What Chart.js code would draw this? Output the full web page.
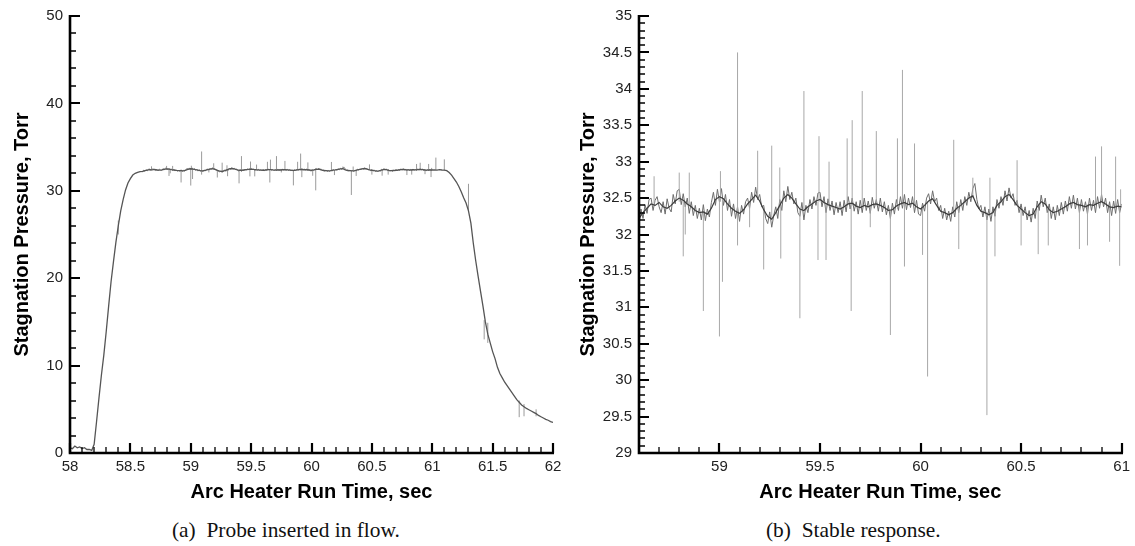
<!DOCTYPE html>
<html>
<head>
<meta charset="utf-8">
<script src="https://cdn.jsdelivr.net/npm/chart.js@4.4.1/dist/chart.umd.min.js"></script>
<style>
  body { margin: 0; background: #fff; width: 1135px; height: 546px; position: relative; overflow: hidden; }
  canvas { position: absolute; top: 0; }
  #left { left: 0; }
  #right { left: 560px; }
  .cap { position: absolute; top: 518px; font: 21.4px "Liberation Serif", "Times New Roman", serif; color: #111; white-space: pre; line-height: 24px; }
</style>
</head>
<body>
<canvas id="left" width="580" height="510"></canvas>
<canvas id="right" width="575" height="510"></canvas>
<div class="cap" style="left:172px">(a)  Probe inserted in flow.</div>
<div class="cap" style="left:766px">(b)  Stable response.</div>
<script>
// sampled pressure (Torr); sample spacing given with each block
const riseStart = 58.0, riseStep = 0.02;
const riseP = [0.6, 0.5, 0.8, 0.6, 0.7, 0.5, 0.6, 0.4, 0.4, 0.3,
               1.0, 3.6, 6.3, 8.9, 11.2, 13.9, 16.8, 19.6, 21.9, 24.1,
               26.0, 27.7, 29.0, 30.1, 30.9, 31.4, 31.8, 32.0, 32.1, 32.2];

// smoothed plateau, 58.60 .. 61.00 every 0.02 s
const meanStart = 58.6, meanStep = 0.02;
const meanP = [
  32.22, 32.30, 32.36, 32.42, 32.40, 32.44, 32.38, 32.36, 32.40, 32.46,
  32.50, 32.47, 32.42, 32.38, 32.33, 32.30, 32.31, 32.28, 32.36, 32.48,
  32.52, 32.49, 32.42, 32.36, 32.32, 32.29, 32.34, 32.42, 32.48, 32.54,
  32.46, 32.34, 32.25, 32.21, 32.30, 32.40, 32.50, 32.55, 32.50, 32.42,
  32.35, 32.33, 32.38, 32.42, 32.46, 32.48, 32.44, 32.41, 32.39, 32.37,
  32.35, 32.38, 32.42, 32.43, 32.39, 32.37, 32.40, 32.38, 32.41, 32.42,
  32.40, 32.37, 32.33, 32.34, 32.39, 32.42, 32.44, 32.41, 32.43, 32.38,
  32.35, 32.40, 32.46, 32.49, 32.40, 32.32, 32.30, 32.27, 32.30, 32.36,
  32.40, 32.45, 32.50, 32.53, 32.40, 32.32, 32.30, 32.27, 32.30, 32.40,
  32.45, 32.52, 32.55, 32.48, 32.40, 32.35, 32.30, 32.26, 32.28, 32.38,
  32.45, 32.42, 32.34, 32.30, 32.32, 32.35, 32.38, 32.42, 32.44, 32.41,
  32.40, 32.38, 32.41, 32.40, 32.43, 32.45, 32.42, 32.38, 32.37, 32.39, 32.38];

// raw plateau, 58.60 .. 61.00 every 0.01 s
const rawStart = 58.6, rawStep = 0.01;
const rawP = [
  32.12, 32.35, 32.22, 32.41, 32.29, 32.48, 32.50, 32.33, 32.47, 32.52, 32.38, 32.30, 32.45, 32.28, 32.49, 32.36, 32.31, 32.55, 32.42, 32.60,
  32.62, 32.41, 32.56, 32.38, 32.50, 32.29, 32.45, 32.26, 32.40, 32.22, 32.36, 32.20, 32.41, 32.19, 32.35, 32.24, 32.44, 32.58, 32.40, 32.62,
  32.45, 32.63, 32.40, 32.55, 32.33, 32.48, 32.25, 32.42, 32.22, 32.38, 32.18, 32.40, 32.28, 32.45, 32.50, 32.36, 32.58, 32.44, 32.65, 32.48,
  32.55, 32.38, 32.40, 32.22, 32.15, 32.31, 32.10, 32.26, 32.38, 32.22, 32.48, 32.33, 32.60, 32.45, 32.66, 32.48, 32.58, 32.42, 32.50, 32.30,
  32.25, 32.44, 32.20, 32.40, 32.30, 32.48, 32.35, 32.52, 32.40, 32.57, 32.58, 32.38, 32.52, 32.30, 32.49, 32.33, 32.46, 32.27, 32.44, 32.30,
  32.45, 32.26, 32.47, 32.31, 32.52, 32.35, 32.50, 32.32, 32.45, 32.28, 32.47, 32.30, 32.50, 32.33, 32.46, 32.29, 32.51, 32.36, 32.48, 32.32,
  32.50, 32.31, 32.45, 32.27, 32.40, 32.22, 32.43, 32.28, 32.48, 32.33, 32.52, 32.36, 32.55, 32.34, 32.50, 32.37, 32.52, 32.30, 32.47, 32.28,
  32.26, 32.43, 32.32, 32.50, 32.56, 32.42, 32.60, 32.45, 32.50, 32.33, 32.40, 32.22, 32.36, 32.20, 32.32, 32.18, 32.38, 32.24, 32.45, 32.30,
  32.48, 32.33, 32.52, 32.40, 32.58, 32.45, 32.63, 32.70, 32.48, 32.35, 32.40, 32.24, 32.38, 32.20, 32.35, 32.18, 32.38, 32.25, 32.48, 32.36,
  32.52, 32.40, 32.60, 32.46, 32.64, 32.50, 32.56, 32.40, 32.47, 32.30, 32.42, 32.26, 32.38, 32.20, 32.33, 32.17, 32.36, 32.22, 32.46, 32.33,
  32.54, 32.38, 32.50, 32.30, 32.42, 32.22, 32.38, 32.20, 32.40, 32.26, 32.44, 32.28, 32.46, 32.32, 32.52, 32.36, 32.54, 32.35, 32.50, 32.30,
  32.48, 32.32, 32.45, 32.28, 32.50, 32.33, 32.47, 32.30, 32.52, 32.36, 32.55, 32.38, 32.50, 32.30, 32.45, 32.26, 32.46, 32.29, 32.48, 32.30, 32.42];

// shut-down, 61.02 .. 62.00 every 0.02 s
const fallStart = 61.02, fallStep = 0.02;
const fallP = [32.40, 32.36, 32.42, 32.38, 32.36, 32.30, 32.10, 31.8, 31.4, 31.0,
               30.5, 29.9, 29.2, 28.6, 27.7, 26.3, 24.0, 22.0, 20.2, 18.5,
               16.8, 15.0, 13.6, 12.6, 11.6, 10.8, 9.8, 9.1, 8.6, 8.1,
               7.7, 7.3, 6.9, 6.5, 6.1, 5.8, 5.5, 5.3, 5.1, 4.95,
               4.8, 4.65, 4.5, 4.3, 4.15, 4.0, 3.85, 3.75, 3.6, 3.5];

// single-sample spikes: [time, low, high]
const spikes = [
  [58.675, 32.4, 32.80], [58.80, 32.45, 32.85], [58.85, 32.4, 32.85], [59.005, 32.45, 32.87],
  [59.09, 32.3, 34.50], [59.19, 32.5, 33.15], [59.26, 32.2, 33.22], [59.30, 32.4, 32.92],
  [59.42, 32.35, 33.97], [59.495, 32.45, 33.35], [59.545, 32.4, 33.00], [59.635, 32.4, 33.32],
  [59.66, 32.4, 33.57], [59.71, 32.4, 33.97], [59.78, 32.4, 33.42], [59.885, 32.35, 33.32],
  [59.91, 32.4, 34.26], [59.97, 32.4, 33.25], [60.165, 32.3, 33.30], [60.26, 32.5, 32.78],
  [60.345, 32.3, 32.78], [60.48, 32.4, 33.02], [60.87, 32.4, 33.07], [60.90, 32.45, 33.21],
  [60.97, 32.38, 33.07], [60.995, 32.38, 32.62],
  [58.82, 31.70, 32.45], [58.83, 32.00, 32.45], [58.92, 30.95, 32.3], [59.00, 30.60, 32.5],
  [59.015, 31.35, 32.5], [59.09, 31.85, 32.3], [59.15, 32.10, 32.45], [59.22, 31.52, 32.35],
  [59.305, 31.67, 32.4], [59.40, 30.85, 32.35], [59.49, 31.65, 32.45], [59.53, 31.65, 32.43],
  [59.655, 30.95, 32.4], [59.75, 32.10, 32.4], [59.85, 30.62, 32.33], [59.92, 31.56, 32.44],
  [60.01, 31.72, 32.37], [60.035, 30.05, 32.45], [60.19, 31.80, 32.35], [60.33, 29.52, 32.3],
  [60.37, 31.70, 32.32], [60.50, 31.85, 32.35], [60.585, 31.73, 32.35], [60.635, 31.85, 32.34],
  [60.79, 31.80, 32.41], [60.83, 31.85, 32.41], [60.94, 31.90, 32.38], [60.99, 31.57, 32.39]
];
const spikesOutside = [
  [61.03, 32.4, 33.8], [61.10, 32.3, 33.6], [61.30, 27.6, 30.8], [61.43, 13.0, 15.2],
  [61.46, 12.6, 14.9], [61.72, 4.1, 6.0], [61.76, 4.2, 5.6], [61.86, 4.2, 5.0], [58.40, 25.0, 26.6]
];

const leftXTicks = [58, 58.5, 59, 59.5, 60, 60.5, 61, 61.5, 62];
const leftYTicks = [0, 10, 20, 30, 40, 50];
const rightXTicks = [59, 59.5, 60, 60.5, 61];
const rightYTicks = [29, 29.5, 30, 30.5, 31, 31.5, 32, 32.5, 33, 33.5, 34, 34.5, 35];

function series(start, step, vals) {
  return vals.map((v, i) => ({ x: +(start + i * step).toFixed(3), y: v }));
}
function spikeSegs(list) {
  const out = [];
  list.forEach(([t, lo, hi]) => { out.push({ x: t, y: lo }, { x: t, y: hi }, { x: t, y: null }); });
  return out;
}
function minors(lo, hi, step) {
  const out = [];
  for (let v = lo; v <= hi + 1e-9; v += step) out.push(+v.toFixed(3));
  return out;
}

// inward major/minor ticks plus the two axis lines
const axisTicks = {
  id: 'axisTicks',
  afterDraw(chart, args, o) {
    const { ctx, chartArea: a, scales: { x, y } } = chart;
    const L = Math.round(a.left), B = Math.round(a.bottom);
    ctx.save();
    ctx.strokeStyle = '#000';
    ctx.lineWidth = 1.3;
    ctx.beginPath();
    o.xMinor.forEach(v => { const p = Math.round(x.getPixelForValue(v)); ctx.moveTo(p, B); ctx.lineTo(p, B - 6); });
    o.yMinor.forEach(v => { const p = Math.round(y.getPixelForValue(v)); ctx.moveTo(L, p); ctx.lineTo(L + 6, p); });
    ctx.stroke();
    ctx.lineWidth = 2.2;
    ctx.beginPath();
    o.xMajor.forEach(v => { const p = Math.round(x.getPixelForValue(v)); ctx.moveTo(p, B); ctx.lineTo(p, B - 10); });
    o.yMajor.forEach(v => { const p = Math.round(y.getPixelForValue(v)); ctx.moveTo(L, p); ctx.lineTo(L + 10, p); });
    ctx.stroke();
    ctx.lineWidth = 2.6;
    ctx.beginPath();
    ctx.moveTo(L, Math.round(a.top) - 1);
    ctx.lineTo(L, B);
    ctx.lineTo(Math.round(a.right) + 1, B);
    ctx.stroke();
    ctx.restore();
  }
};

const tickFont = { family: '"Liberation Sans", Arial, sans-serif', size: 15 };
const titleFont = { family: '"Liberation Sans", Arial, sans-serif', size: 20, weight: 'bold' };

function makeChart(id, s) {
  return new Chart(document.getElementById(id), {
    type: 'line',
    data: { datasets: s.datasets },
    options: {
      responsive: false,
      animation: false,
      events: [],
      layout: { autoPadding: false, padding: { left: 0, top: 12, right: s.padRight, bottom: 0 } },
      elements: { point: { radius: 0 }, line: { tension: 0 } },
      plugins: {
        legend: { display: false },
        tooltip: { enabled: false },
        axisTicks: { xMajor: s.xTicks, xMinor: s.xMinor, yMajor: s.yTicks, yMinor: s.yMinor }
      },
      scales: {
        x: {
          type: 'linear', min: s.xMin, max: s.xMax,
          grid: { display: false, drawTicks: false },
          border: { display: false },
          afterBuildTicks: sc => { sc.ticks = s.xTicks.map(v => ({ value: v })); },
          afterFit: sc => { sc.height = 57; },
          ticks: { autoSkip: false, maxRotation: 0, padding: 5, color: '#222', font: tickFont, callback: v => String(v) },
          title: { display: true, text: 'Arc Heater Run Time, sec', color: '#000', font: titleFont, padding: { top: 0, bottom: 6 } }
        },
        y: {
          min: s.yMin, max: s.yMax,
          grid: { display: false, drawTicks: false },
          border: { display: false },
          afterBuildTicks: sc => { sc.ticks = s.yTicks.map(v => ({ value: v })); },
          afterFit: sc => { sc.width = s.yWidth; },
          ticks: { autoSkip: false, padding: 7, color: '#222', font: tickFont, callback: v => String(v) },
          title: { display: true, text: 'Stagnation Pressure, Torr', color: '#000', font: titleFont, padding: { top: s.yTitlePad, bottom: 0 } }
        }
      }
    },
    plugins: [axisTicks]
  });
}

const rise = series(riseStart, riseStep, riseP);
const mean = series(meanStart, meanStep, meanP);
const raw = series(rawStart, rawStep, rawP);
const fall = series(fallStart, fallStep, fallP);

makeChart('left', {
  xMin: 58, xMax: 62, yMin: 0, yMax: 50,
  xTicks: leftXTicks, yTicks: leftYTicks,
  xMinor: minors(58, 62, 0.1), yMinor: minors(0, 50, 2),
  padRight: 27, yWidth: 70, yTitlePad: 10,
  datasets: [
    { data: rise.concat(mean, fall), borderColor: '#555', borderWidth: 1.3, order: 1 },
    { data: spikeSegs(spikes.concat(spikesOutside)), borderColor: '#9a9a9a', borderWidth: 1, order: 2 },
    { data: raw, borderColor: '#8a8a8a', borderWidth: 1, order: 3 }
  ]
});

makeChart('right', {
  xMin: 58.6, xMax: 61, yMin: 29, yMax: 35,
  xTicks: rightXTicks, yTicks: rightYTicks,
  xMinor: minors(58.6, 61, 0.1), yMinor: minors(29, 35, 0.1),
  padRight: 11, yWidth: 79, yTitlePad: 16,
  datasets: [
    { data: mean, borderColor: '#3c3c3c', borderWidth: 1.2, order: 1 },
    { data: spikeSegs(spikes), borderColor: '#a8a8a8', borderWidth: 1, order: 2 },
    { data: raw, borderColor: '#6e6e6e', borderWidth: 1, order: 3 }
  ]
});
</script>
</body>
</html>
